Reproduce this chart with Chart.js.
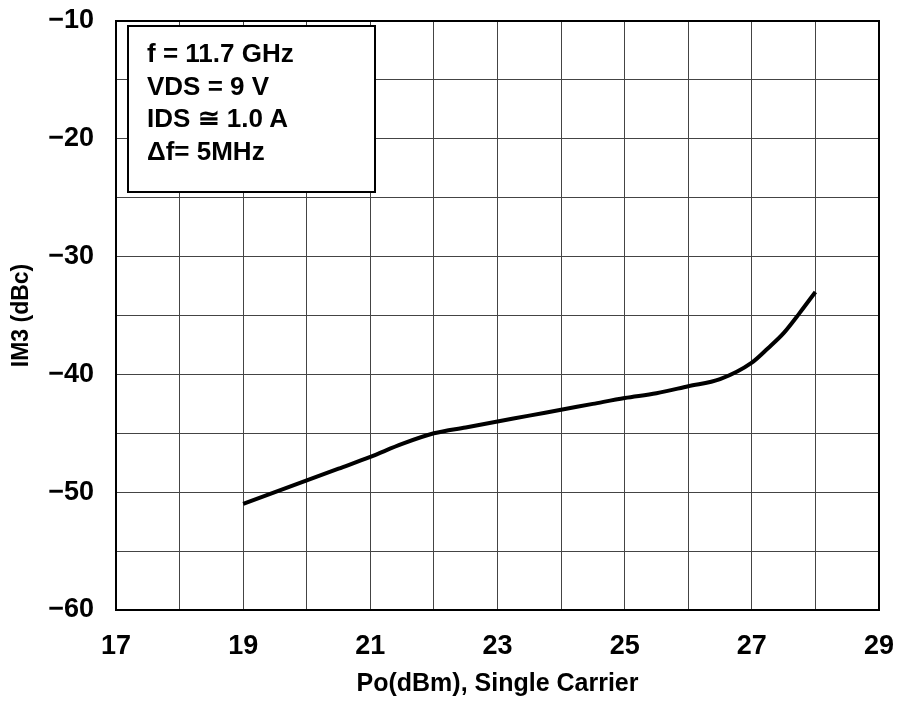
<!DOCTYPE html>
<html><head><meta charset="utf-8">
<script src="https://cdn.jsdelivr.net/npm/chart.js@4.4.1/dist/chart.umd.min.js"></script>
<style>
html,body{margin:0;padding:0;background:#fff;}
#wrap{position:relative;width:898px;height:728px;}
#box{position:absolute;left:127px;top:25px;width:245px;height:164px;border:2px solid #000;background:#fff;
font-family:"Liberation Sans",Arial,sans-serif;font-weight:bold;font-size:26px;line-height:32.5px;padding:0;box-sizing:content-box;}
#box div{position:relative;left:18px;top:10px;white-space:nowrap;}
</style></head><body>
<div id="wrap"><canvas id="c" width="898" height="728"></canvas>
<div id="box"><div>f = 11.7 GHz<br>VDS = 9 V<br>IDS ≅ 1.0 A<br>Δf= 5MHz</div></div></div>
<script>
const poDbm = [19, 19.5, 20, 20.5, 21, 21.5, 22, 22.5, 23, 23.5, 24, 24.5, 25, 25.5, 26, 26.5, 27, 27.25, 27.5, 27.75, 28];
const im3Dbc = [-51, -50, -49, -48, -47, -45.9, -45, -44.5, -44, -43.5, -43, -42.5, -42, -41.6, -41, -40.4, -39, -37.8, -36.5, -34.8, -33];
const xTickLabels = [17, 19, 21, 23, 25, 27, 29];
const yTickLabels = [-10, -20, -30, -40, -50, -60];

const pts = poDbm.map((x, i) => ({x, y: im3Dbc[i]}));
const tickFont = {family: '"Liberation Sans",Arial,sans-serif', size: 27, weight: 'bold'};
const titleFont = {family: '"Liberation Sans",Arial,sans-serif', size: 25, weight: 'bold'};

new Chart(document.getElementById('c'), {
  type: 'line',
  data: {datasets: [{data: pts, borderColor: '#000', borderWidth: 4, pointRadius: 0, tension: 0.4, cubicInterpolationMode: 'monotone', fill: false}]},
  options: {
    responsive: false, animation: false,
    layout: {padding: {left: 8, right: 19, top: 21, bottom: 29}},
    plugins: {legend: {display: false}, tooltip: {enabled: false}},
    scales: {
      x: {
        type: 'linear', min: 17, max: 29,
        ticks: {stepSize: 1, color: '#000', font: tickFont, padding: 20, maxRotation: 0, autoSkip: false,
          callback: v => xTickLabels.includes(v) ? String(v) : ''},
        grid: {color: '#444', lineWidth: 1, drawTicks: false},
        border: {color: '#000', width: 2},
        title: {display: true, text: 'Po(dBm), Single Carrier', color: '#000', font: titleFont, padding: {top: 0, bottom: 0}},
        afterFit: s => { s.height = 89; s.paddingLeft = 0; s.paddingRight = 0; }
      },
      y: {
        min: -60, max: -10,
        ticks: {stepSize: 5, color: '#000', font: tickFont, padding: 22, autoSkip: false,
          callback: v => yTickLabels.includes(v) ? '\u2212' + Math.abs(v) : ''},
        grid: {color: '#444', lineWidth: 1, drawTicks: false},
        border: {color: '#000', width: 2},
        title: {display: true, text: 'IM3 (dBc)', color: '#000', font: {family: '"Liberation Sans",Arial,sans-serif', size: 23, weight: 'bold'}, padding: {top: 0, bottom: 0}},
        afterFit: s => { s.width = 108; s.paddingTop = 0; s.paddingBottom = 0; }
      }
    }
  },
  plugins: [{
    id: 'frame',
    afterDraw(chart) {
      const {ctx, chartArea: a} = chart;
      ctx.save(); ctx.strokeStyle = '#000'; ctx.lineWidth = 2;
      ctx.strokeRect(a.left, a.top, a.right - a.left, a.bottom - a.top);
      ctx.restore();
    }
  }]
});
</script></body></html>
